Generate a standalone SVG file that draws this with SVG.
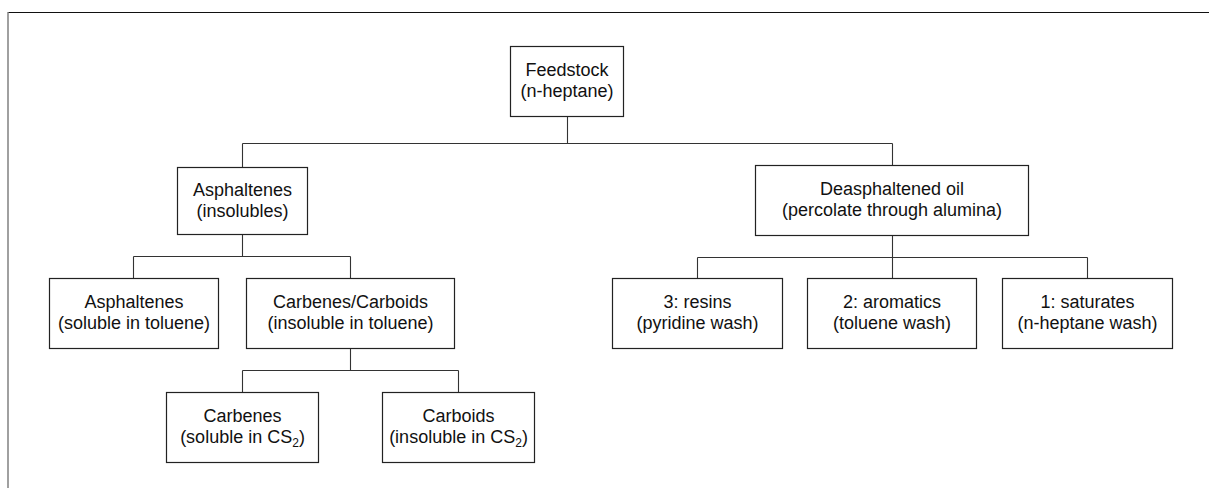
<svg xmlns="http://www.w3.org/2000/svg" width="1209" height="488" viewBox="0 0 1209 488">
<style>
.box{fill:#fff;stroke:#222;stroke-width:1.2}
.t{font-family:"Liberation Sans",Arial,sans-serif;font-size:18px;fill:#111;text-anchor:middle}
.c{fill:none;stroke:#333;stroke-width:1.1}
.sub{font-size:12px}
</style>
<rect width="1209" height="488" fill="#fff"/>
<g id="frame">
<line x1="8" y1="12.5" x2="1209" y2="12.5" stroke="#111" stroke-width="1.2"/>
<line x1="8" y1="12" x2="8" y2="488" stroke="#808080" stroke-width="1.5"/>
</g>
<g id="connectors">
<path class="c" d="M567.5 116V143.5M242.5 143.5H892.5M242.5 143.5V167M892.5 143.5V165"/>
<path class="c" d="M242.5 234V256.5M133.5 256.5H350.5M133.5 256.5V278M350.5 256.5V278"/>
<path class="c" d="M350.5 348V370.5M242.5 370.5H458.5M242.5 370.5V392M458.5 370.5V392"/>
<path class="c" d="M892.5 235V278M697.5 257.5H1087.5M697.5 257.5V278M1087.5 257.5V278"/>
</g>
<g id="feedstock">
<rect class="box" x="510.5" y="46.5" width="113" height="70"/>
<text class="t" x="567" y="76">Feedstock</text>
<text class="t" x="567" y="97">(n-heptane)</text>
</g>
<g id="asphaltenes-insolubles">
<rect class="box" x="177.5" y="167.5" width="130" height="67"/>
<text class="t" x="242.5" y="196">Asphaltenes</text>
<text class="t" x="242.5" y="217">(insolubles)</text>
</g>
<g id="deasphaltened-oil">
<rect class="box" x="755.5" y="165.5" width="273" height="70"/>
<text class="t" x="892" y="195">Deasphaltened oil</text>
<text class="t" x="892" y="216">(percolate through alumina)</text>
</g>
<g id="asphaltenes-soluble">
<rect class="box" x="49.5" y="278.5" width="169" height="70"/>
<text class="t" x="134" y="308">Asphaltenes</text>
<text class="t" x="134" y="329">(soluble in toluene)</text>
</g>
<g id="carbenes-carboids">
<rect class="box" x="246.5" y="278.5" width="208" height="70"/>
<text class="t" x="350.5" y="308">Carbenes/Carboids</text>
<text class="t" x="350.5" y="329">(insoluble in toluene)</text>
</g>
<g id="resins">
<rect class="box" x="612.5" y="278.5" width="170" height="70"/>
<text class="t" x="697.5" y="308">3: resins</text>
<text class="t" x="697.5" y="329">(pyridine wash)</text>
</g>
<g id="aromatics">
<rect class="box" x="807.5" y="278.5" width="169" height="70"/>
<text class="t" x="892" y="308">2: aromatics</text>
<text class="t" x="892" y="329">(toluene wash)</text>
</g>
<g id="saturates">
<rect class="box" x="1002.5" y="278.5" width="170" height="70"/>
<text class="t" x="1087.5" y="308">1: saturates</text>
<text class="t" x="1087.5" y="329">(n-heptane wash)</text>
</g>
<g id="carbenes">
<rect class="box" x="166.5" y="392.5" width="152" height="70"/>
<text class="t" x="242.5" y="422">Carbenes</text>
<text class="t" x="242.5" y="443">(soluble in CS<tspan class="sub" dy="4">2</tspan><tspan dy="-4">)</tspan></text>
</g>
<g id="carboids">
<rect class="box" x="382.5" y="392.5" width="152" height="70"/>
<text class="t" x="458.5" y="422">Carboids</text>
<text class="t" x="458.5" y="443">(insoluble in CS<tspan class="sub" dy="4">2</tspan><tspan dy="-4">)</tspan></text>
</g>
</svg>
